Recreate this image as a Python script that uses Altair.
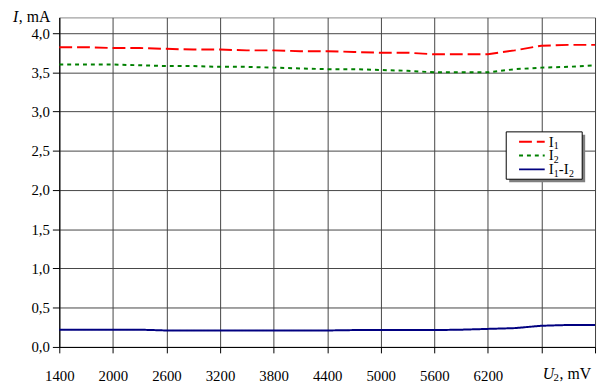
import altair as alt
import pandas as pd

u2 = [1400, 1700, 2000, 2300, 2600, 2900, 3200, 3500, 3800, 4100, 4400,
      4700, 5000, 5300, 5600, 5900, 6200, 6500, 6800, 7100, 7400]
i1 = [3.82, 3.82, 3.81, 3.81, 3.80, 3.79, 3.79, 3.78, 3.78, 3.77, 3.77,
      3.76, 3.75, 3.75, 3.73, 3.73, 3.73, 3.78, 3.84, 3.85, 3.85]
i2 = [3.60, 3.60, 3.60, 3.59, 3.58, 3.58, 3.57, 3.57, 3.56, 3.55, 3.54,
      3.54, 3.53, 3.52, 3.50, 3.50, 3.50, 3.54, 3.56, 3.57, 3.59]
i12 = [0.22, 0.22, 0.22, 0.22, 0.21, 0.21, 0.21, 0.21, 0.21, 0.21, 0.21,
       0.215, 0.215, 0.215, 0.215, 0.22, 0.23, 0.24, 0.27, 0.28, 0.28]

series = ["I1", "I2", "I1-I2"]
colors = ["#ff0000", "#008000", "#000080"]
dashes = [[13, 5], [4, 4], [1, 0]]

x_ticks = [1400, 2000, 2600, 3200, 3800, 4400, 5000, 5600, 6200, 6800, 7400]
y_ticks = [0, 0.5, 1.0, 1.5, 2.0, 2.5, 3.0, 3.5, 4.0]

rows = []
for name, vals in zip(series, [i1, i2, i12]):
    for x, v in zip(u2, vals):
        rows.append({"U2": x, "I": v, "series": name})
df = pd.DataFrame(rows)

FONT = "Liberation Serif"

lines = alt.Chart(df).mark_line(strokeWidth=2).encode(
    x=alt.X("U2:Q", scale=alt.Scale(domain=[1400, 7400], nice=False, zero=False),
            axis=alt.Axis(values=x_ticks, title=None,
                          labelExpr="datum.value <= 6200 ? datum.label : ''",
                          format="d", labelPadding=16, tickSize=6,
                          labelFont=FONT, labelFontSize=15, labelFlush=False,
                          labelOverlap=False)),
    y=alt.Y("I:Q", scale=alt.Scale(domain=[0, 4.2], nice=False),
            axis=alt.Axis(values=y_ticks, title=None,
                          labelExpr="replace(format(datum.value,'.1f'),'.',',')",
                          labelPadding=3, tickSize=7,
                          labelFont=FONT, labelFontSize=15, labelFlush=False,
                          labelOverlap=False)),
    color=alt.Color("series:N", scale=alt.Scale(domain=series, range=colors), legend=None),
    strokeDash=alt.StrokeDash("series:N", scale=alt.Scale(domain=series, range=dashes), legend=None),
    order=alt.Order("U2:Q"),
)

tdf = pd.DataFrame({"a": [0]})


def txt(s, x, y, size=15, italic=False):
    kw = dict(font=FONT, fontSize=size, align="left", baseline="alphabetic", color="black")
    if italic:
        kw["fontStyle"] = "italic"
    return alt.Chart(tdf).mark_text(**kw).encode(
        x=alt.value(x), y=alt.value(y), text=alt.value(s))


layers = [lines]

# axis titles
layers += [
    txt("I", -47, 5, 16, True),
    txt(", mA", -41, 5, 16),
    txt("U", 490, 366, 16, True),
    txt("2", 501, 369, 11),
    txt(", mV", 507, 366, 16),
]

# legend (box with shadow, symbols, labels)
LX, LY, LW, LH = 453, 116, 77, 48
layers.append(alt.Chart(tdf).mark_rect(fill="#7f7f7f").encode(
    x=alt.value(LX + 3), x2=alt.value(LX + LW + 3),
    y=alt.value(LY + 3), y2=alt.value(LY + LH + 3)))
layers.append(alt.Chart(tdf).mark_rect(fill="white", stroke="black", strokeWidth=1).encode(
    x=alt.value(LX), x2=alt.value(LX + LW),
    y=alt.value(LY), y2=alt.value(LY + LH)))

for k, (name, col, dash) in enumerate(zip(series, colors, dashes)):
    cy = LY + 10 + 14 * k
    layers.append(alt.Chart(tdf).mark_rule(color=col, strokeWidth=2, strokeDash=dash).encode(
        x=alt.value(LX + 13), x2=alt.value(LX + 39), y=alt.value(cy)))
    # label pieces: letters at 15px, digits as subscripts
    xpos = LX + 43
    for ch in name:
        if ch.isdigit():
            layers.append(txt(ch, xpos, cy + 7.5, 10))
            xpos += 5.2
        else:
            layers.append(txt(ch, xpos, cy + 5, 15))
            xpos += 5.1

chart = alt.layer(*layers).properties(
    width=543, height=334,
    autosize=alt.AutoSizeParams(type="none"),
    padding={"left": 52, "top": 7, "right": 2, "bottom": 35},
).configure_view(stroke="#888888", strokeWidth=1).configure_axis(
    labelFont=FONT, labelFontSize=15, labelColor="black",
    gridColor="#444444", gridOpacity=1, gridWidth=1,
    domainColor="black", tickColor="black",
)

chart.save("out.html", embed_options={"renderer": "svg", "actions": False})
